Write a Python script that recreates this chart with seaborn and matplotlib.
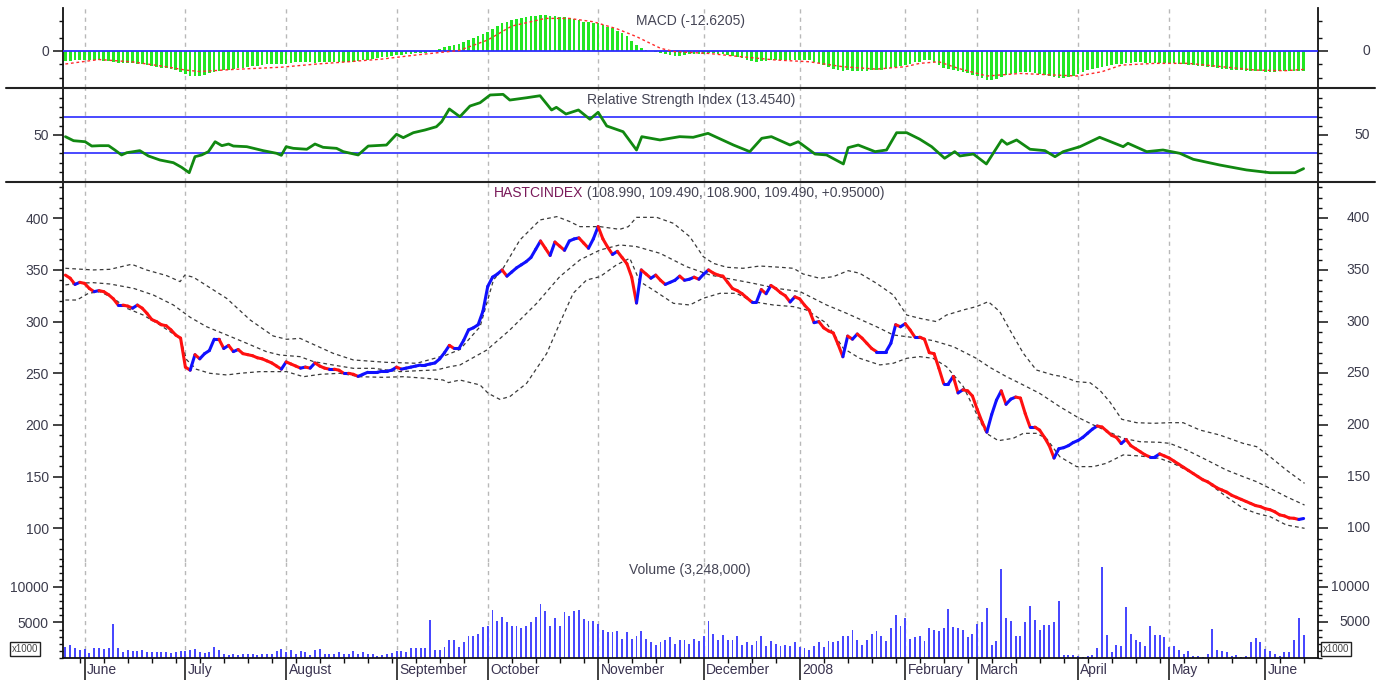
import numpy as np
import seaborn as sns
import matplotlib.pyplot as plt
from matplotlib.collections import LineCollection
from matplotlib.lines import Line2D
from matplotlib.ticker import MultipleLocator, FixedLocator

sns.set_theme(style='white')
plt.rcParams['font.family'] = ['Liberation Sans', 'DejaVu Sans']

# ---- data (trading-day index 0..258, late May 2007 -> mid June 2008) ----
month_labels = ['June', 'July', 'August', 'September', 'October', 'November',
                'December', '2008', 'February', 'March', 'April', 'May', 'June']
month_idx = [4, 25, 46, 69, 88, 111, 133, 153, 175, 190, 211, 230, 250]

close = [345, 342, 336, 338, 337, 332, 329, 330, 329, 326,
         322, 316, 316, 315, 313, 316, 313, 308, 302, 300,
         297, 296, 292, 287, 284, 256, 253, 268, 264, 269,
         272, 283, 283, 274, 277, 271, 273, 269, 268, 267,
         265, 264, 262, 260, 257, 254, 261, 259, 257, 255,
         256, 255, 260, 257, 255, 254, 254, 253, 250, 250,
         249, 247, 249, 251, 251, 251, 252, 252, 253, 256,
         254, 255, 256, 257, 258, 258, 259, 260, 264, 270,
         277, 274, 274, 282, 292, 294, 297, 310, 334, 343,
         346, 350, 344, 348, 352, 355, 358, 362, 370, 378,
         371, 364, 377, 373, 369, 378, 380, 381, 376, 371,
         380, 392, 380, 372, 365, 368, 362, 356, 343, 318,
         350, 346, 342, 345, 340, 336, 338, 340, 344, 340,
         341, 343, 341, 346, 350, 347, 345, 344, 338, 332,
         330, 327, 323, 319, 319, 331, 327, 335, 332, 328,
         325, 319, 324, 322, 316, 311, 299, 300, 294, 291,
         289, 278, 266, 286, 283, 288, 284, 279, 274, 271,
         271, 271, 279, 297, 295, 298, 292, 285, 285, 283,
         270, 269, 255, 240, 240, 247, 231, 234, 233, 228,
         215, 203, 193, 210, 224, 233, 220, 225, 227, 226,
         211, 198, 198, 195, 188, 180, 168, 177, 178, 180,
         183, 185, 188, 192, 196, 199, 198, 194, 190, 188,
         182, 186, 180, 177, 174, 171, 169, 169, 172, 170,
         168, 165, 162, 159, 156, 153, 150, 147, 145, 142,
         139, 137, 135, 132, 130, 128, 126, 124, 122, 121,
         119, 118, 116, 113, 112, 110, 109.7, 108.54, 109.49]

volume = [1590, 1780, 1400, 1080, 1270, 700, 1360, 1400, 1270, 1400,
          4830, 1360, 800, 1080, 940, 940, 1080, 800, 800, 800,
          800, 800, 700, 800, 940, 990, 1080, 1220, 800, 700,
          800, 1550, 1080, 610, 420, 610, 470, 610, 610, 610,
          420, 610, 610, 610, 940, 1270, 800, 1080, 610, 940,
          800, 470, 1080, 1270, 610, 610, 610, 800, 610, 610,
          940, 610, 800, 610, 610, 330, 470, 610, 700, 940,
          940, 800, 1400, 1400, 1400, 1400, 5300, 1080, 1080, 1500,
          2480, 2480, 1550, 2200, 3060, 3060, 3430, 4320, 4550, 6800,
          5160, 5770, 5020, 4550, 4550, 4220, 4550, 5020, 5770, 7650,
          6570, 4550, 5630, 4550, 6430, 5960, 6570, 6710, 5490, 5160,
          5160, 4830, 3990, 3610, 3610, 3750, 2720, 3610, 2720, 3050,
          3750, 2720, 2250, 1880, 2200, 2580, 2950, 2020, 2580, 2580,
          2020, 2720, 2350, 3060, 5260, 3430, 2580, 3290, 2580, 2480,
          3140, 1880, 2200, 1880, 2350, 3140, 1640, 2350, 2020, 1730,
          1830, 1640, 2200, 1550, 1400, 1170, 1640, 2200, 1550, 2440,
          2200, 2350, 3140, 3140, 3900, 2580, 1880, 2480, 3430, 3750,
          3060, 2440, 4220, 6100, 4550, 5630, 2670, 2950, 3140, 2350,
          4220, 3900, 3750, 4220, 6900, 4410, 4220, 3900, 2950, 3430,
          4830, 5020, 7040, 1880, 2350, 12530, 5630, 5160, 3140, 3140,
          5020, 7370, 5300, 3900, 4690, 4690, 5020, 7980, 470, 470,
          470, 230, 140, 330, 470, 1400, 12800, 3290, 800, 1880,
          1740, 7180, 3430, 2480, 2200, 1740, 4550, 3290, 3290, 2950,
          1550, 1740, 1080, 610, 940, 330, 330, 100, 610, 4130,
          1080, 940, 800, 330, 470, 140, 330, 2200, 2810, 2200,
          1270, 940, 610, 330, 800, 800, 2480, 5630, 3248]

macd = [-6.6, -6.4, -6.2, -6.0, -5.9, -5.9, -5.9, -5.9, -6.3, -6.8,
        -7.4, -7.7, -7.8, -7.9, -8.0, -8.3, -8.6, -9.0, -9.4, -10.0,
        -10.6, -11.1, -11.6, -12.3, -13.4, -14.8, -15.9, -16.0, -15.9, -15.0,
        -14.0, -13.4, -13.0, -12.4, -12.0, -11.5, -11.1, -10.7, -10.2, -9.8,
        -9.4, -9.0, -8.7, -8.6, -8.6, -8.6, -8.2, -7.7, -7.2, -7.0,
        -7.2, -7.4, -7.6, -7.4, -7.2, -7.0, -7.0, -7.0, -7.0, -7.0,
        -7.0, -6.6, -6.1, -5.8, -5.3, -4.8, -4.3, -3.9, -3.4, -3.0,
        -2.6, -2.3, -2.0, -1.8, -1.6, -1.4, -1.2, -0.5, 0.8, 2.2,
        3.0, 3.4, 4.2, 5.3, 6.5, 7.6, 8.9, 10.4, 11.8, 13.6,
        15.3, 17.0, 18.0, 18.8, 19.6, 20.3, 20.8, 21.3, 21.8, 22.2,
        22.1, 21.9, 21.6, 21.2, 20.7, 20.2, 19.5, 18.8, 18.1, 17.6,
        17.2, 17.0, 16.2, 14.8, 13.8, 12.5, 11.0, 9.3, 6.0, 3.5,
        1.8, 0.3, -0.3, -1.0, -1.5, -2.3, -3.0, -3.4, -3.2, -2.8,
        -2.3, -2.1, -2.0, -1.9, -1.8, -1.8, -1.9, -2.1, -2.6, -3.3,
        -4.0, -4.9, -5.6, -6.3, -7.0, -6.6, -6.3, -6.0, -5.9, -5.9,
        -5.9, -5.9, -5.8, -5.8, -5.9, -6.2, -7.0, -8.0, -9.0, -10.2,
        -11.3, -12.2, -12.6, -12.4, -12.6, -12.6, -12.7, -12.6, -12.4, -12.2,
        -11.9, -11.5, -11.1, -10.2, -9.5, -9.1, -8.3, -7.3, -7.0, -6.2,
        -5.9, -7.2, -9.0, -10.6, -11.5, -12.0, -12.6, -13.2, -14.0, -15.0,
        -16.2, -17.4, -18.1, -18.4, -17.6, -16.4, -15.3, -14.6, -13.9, -13.2,
        -13.3, -13.5, -13.9, -14.5, -15.0, -15.7, -16.8, -17.4, -17.0, -16.3,
        -15.6, -14.9, -13.5, -12.4, -11.5, -10.7, -10.0, -9.5, -9.0, -8.6,
        -8.2, -7.9, -7.6, -7.4, -7.4, -7.5, -7.6, -7.6, -7.6, -7.6,
        -7.6, -7.8, -8.1, -8.4, -8.8, -9.1, -9.4, -9.8, -10.1, -10.5,
        -10.9, -11.3, -11.7, -11.9, -12.1, -12.3, -12.5, -12.6, -12.8, -13.0,
        -13.1, -13.2, -13.1, -12.9, -12.7, -12.6, -12.6, -12.7, -12.62]

signal_idx = [0, 7, 14, 21, 25, 28, 35, 45, 52, 59, 66, 73, 79, 82, 88, 93, 100,
              105, 110, 115, 119, 124, 127, 134, 141, 148, 155, 162, 169, 175,
              178, 182, 186, 192, 199, 206, 211, 216, 220, 227, 234, 241, 248,
              254, 258]
signal_val = [-8.4, -5.6, -7.1, -10.1, -12.2, -13.1, -11.8, -10.4, -8.5, -7.0,
              -5.3, -2.8, -0.9, 0.0, 6.6, 15.3, 20.1, 20.1, 18.0, 13.5, 8.7, 1.4,
              -0.7, -1.8, -3.9, -5.9, -7.0, -10.1, -11.6, -10.1, -8.0, -7.0,
              -11.1, -15.9, -14.3, -15.3, -15.9, -13.2, -9.1, -8.0, -8.0, -10.1,
              -12.2, -12.6, -11.8]

rsi_idx = [0, 1.7, 4.1, 5.5, 7.2, 9, 10.3, 11.7, 12.8, 14.2, 15.5, 17.3, 19.7,
           22.5, 24.2, 25.8, 27, 28.4, 29.8, 31.2, 32.6, 34, 35, 37.8, 41.2, 44,
           45, 46, 47.5, 50.3, 52, 53.7, 56.5, 57.9, 61, 63.1, 66.9, 69, 70.4,
           72.5, 74.9, 77.3, 78.4, 80, 82.2, 84.3, 86.4, 88.5, 91.2, 92.6, 96.1,
           98.9, 101.3, 102.3, 104.3, 106.9, 109.3, 111, 112.8, 116.2, 119,
           120.1, 123.9, 128, 130.8, 133.9, 139.2, 142.6, 145.1, 147.1, 151,
           152.7, 156.2, 158.6, 162.1, 163.1, 165.2, 168.7, 171.1, 173.2, 175.3,
           178, 180.5, 183.2, 185.3, 186.4, 189.2, 191.9, 195.1, 196.2, 198.2,
           201, 204.1, 206.2, 207.9, 211.4, 215.5, 220.4, 221.4, 225.3, 228.7,
           232.2, 235, 240.5, 246.1, 251, 256.2, 258]
rsi_val = [48.2, 43.8, 42.7, 38, 38.4, 38.4, 33.7, 28.3, 30.8, 31.9, 33, 27.2,
           22.8, 19.9, 14.9, 9, 26.4, 28.3, 31.9, 42.7, 38.4, 40.2, 38, 37.3, 33,
           30.1, 27.9, 37.3, 35.5, 34.5, 40.2, 36.6, 35.5, 31.9, 28.3, 38, 39.1,
           50.8, 47.1, 52.5, 55.4, 59, 64.5, 78.3, 69.9, 81.5, 85.1, 93.5, 94.2,
           88, 90.5, 92.7, 77.2, 80.1, 72.8, 77.2, 67.1, 74.7, 59.8, 53.6, 33.7,
           48.2, 44.6, 48.2, 47.5, 51.8, 39.1, 31.9, 46.4, 48.2, 39.1, 42.7,
           29.3, 28.3, 18.5, 36.2, 39.1, 31.9, 33.7, 52.5, 52.5, 45.5, 37.3,
           24.7, 31.9, 27.2, 29.3, 18.5, 44.6, 39.9, 44.6, 34.5, 33, 26.4, 31.9,
           37.3, 47.5, 37.3, 41, 31.9, 33.7, 30.1, 23.6, 17.4, 12, 9, 9, 13.45]

upper_idx = [0, 5.8, 9.3, 13.8, 16.9, 21.1, 23.9, 24.9, 26.7, 33.6,
             38.5, 43.3, 46.1, 48.9, 55.8, 60, 66.9, 73.2, 79.4, 82.2,
             86.4, 89.2, 91.2, 94.7, 98.9, 102.4, 105.1, 107.2, 111.4, 115.5,
             117.3, 119, 123.2, 126.7, 130.1, 132.9, 135, 137.8, 141.2, 144.7,
             148.9, 151.7, 153.7, 157.2, 160, 163.1, 165.5, 169, 172.5, 175.3,
             178, 181.5, 183.6, 187.1, 189.8, 192.3, 194.7, 196.8, 199.6, 202.3,
             205.8, 207.9, 210.7, 213.5, 215.5, 217.6, 220.1, 223.2, 226.7, 230.1,
             232.9, 236.4, 240.5, 245.4, 248.2, 251, 254.4, 258.2]
upper_val = [351.6, 350, 350.6, 355.5, 350, 344.5, 338.7, 345.1, 342.9, 322.5,
             301.6, 286.1, 282.9, 283.8, 269.3, 262.9, 260.6, 259.7, 267.7, 273,
             295.1, 340.3, 351.6, 379, 398.4, 401.6, 396.8, 391.9, 391.9, 389.3,
             391.9, 400.9, 400.9, 395.1, 382.2, 362.9, 356.4, 352.6, 351.6, 353.8,
             352.6, 351.6, 346.1, 341.9, 343.5, 349.3, 346.8, 337.1, 325.8, 306.4,
             303.2, 300, 306.4, 311.3, 314.5, 319.3, 309.7, 291.9, 269.3, 253.2,
             248.4, 246.7, 241.9, 240.9, 233.8, 222.5, 205.5, 202.2, 201.6, 202.2,
             202.2, 195.1, 190.3, 182.2, 179, 169.3, 156.4, 143.5]

mid_idx = [0, 2.4, 5.8, 9.3, 14.2, 18.3, 22.5, 26, 29.4, 33.6,
           37.8, 41.9, 44.7, 48.9, 51.7, 55.8, 60, 64.2, 69.7, 73.9,
           77.3, 80.1, 82.2, 87.8, 92.6, 98.2, 103, 107.2, 111.4, 115.5,
           119, 123.9, 129.4, 134.3, 137.8, 143.3, 148.2, 153.1, 158.6, 162.8,
           169, 172.5, 178, 180.8, 185, 189.8, 192.6, 196.1, 198.9, 203,
           207.2, 210.7, 214.2, 217.6, 220.4, 223.9, 228, 230.1, 233.6, 237.8,
           241.9, 245.4, 248.2, 251, 254.4, 258.2]
mid_val = [335.5, 337.1, 337.7, 336.4, 332.2, 325.8, 316.1, 304.2, 295.1, 287.1,
           279, 270.9, 267.7, 266.1, 261.3, 258, 254.8, 254.8, 251.6, 252.6,
           253.2, 256.4, 258, 272.5, 291.9, 317.7, 343.5, 359.7, 369.3, 374.2,
           372.6, 366.1, 353.2, 345.1, 341.9, 337.1, 332.2, 329, 316.1, 308,
           295.1, 287.1, 283.8, 281.6, 275.8, 264.5, 255.8, 246.7, 240.3, 230.6,
           217.7, 208, 200, 192.9, 187.1, 183.8, 183.2, 182.2, 175.8, 166.1,
           156.4, 150, 145.1, 138.7, 130.6, 122.5]

lower_idx = [0, 2.4, 4.8, 7.2, 10, 12.8, 16.2, 19.7, 23.9, 25.3,
             27.3, 30.1, 33.6, 36.4, 40.5, 46.1, 49.6, 53.1, 57.2, 61.4,
             66.2, 70.4, 75.3, 78.7, 79.8, 82.2, 86.4, 88.1, 90.5, 92.6,
             96.1, 100.3, 103, 105.8, 108.6, 111.4, 114.8, 117.6, 119.7, 122.5,
             126.7, 130.1, 132.9, 136.4, 139.8, 143.3, 147.5, 151.7, 154.4, 158.6,
             162.1, 165.5, 169.7, 172.5, 175.3, 178, 180.8, 183.6, 187.1, 189.8,
             191.9, 194.4, 197.5, 199.6, 202.3, 204.4, 207.2, 210.7, 214.2, 216.9,
             220.4, 223.9, 228, 230.8, 233.6, 237.8, 241.9, 245.4, 248.2, 251,
             254.4, 258.2]
lower_val = [320.9, 320.9, 327.4, 329, 322.6, 312.9, 306.4, 296.8, 283.8, 262.9,
             253.9, 250, 248.4, 250, 251.6, 251.6, 246.7, 249, 250, 246.7,
             246.1, 246.7, 245.1, 243.5, 241, 243.5, 238.7, 230.6, 224.8, 227.4,
             240.3, 269.3, 298.4, 327.4, 340.3, 343.5, 354.8, 361.3, 338.7, 330.6,
             317.7, 316.1, 322.6, 327.4, 327.4, 319.3, 316.1, 314.5, 311.3, 298.4,
             274.2, 264.5, 258.1, 259.7, 264.5, 266.1, 264.5, 256.4, 237.1, 211.3,
             191.9, 184.8, 187.1, 191.9, 191.9, 187.1, 169.3, 159.7, 159.7, 162.9,
             171, 170, 167.7, 162.9, 156.4, 145.1, 130.6, 119.3, 114.5, 111.3,
             103.2, 100]

# ---- layout (pixel boxes of the reference) ----
W, H = 1381, 680
fig = plt.figure(figsize=(W / 100, H / 100), dpi=100, facecolor='white')
X0, X1 = 63, 1318


def box(top, bottom):
    return [X0 / W, 1 - bottom / H, (X1 - X0) / W, (bottom - top) / H]


ax_macd = fig.add_axes(box(8, 88))
ax_rsi = fig.add_axes(box(88, 182))
ax_px = fig.add_axes(box(182, 562))
ax_vol = fig.add_axes(box(562, 658))
axes = [ax_macd, ax_rsi, ax_px, ax_vol]

TXT = '#3c3c4c'
GRID = '#b8b8b8'

for ax in axes:
    ax.set_facecolor('white')
    ax.set_xlim(-0.5, 261)
    for s in ['top', 'bottom']:
        ax.spines[s].set_visible(False)
    for s in ['left', 'right']:
        ax.spines[s].set_color('#111111')
        ax.spines[s].set_linewidth(1.3)
    ax.tick_params(axis='y', which='both', left=True, right=True,
                   labelleft=True, labelright=False, direction='out',
                   color='#111111', labelcolor=TXT, labelsize=10)
    ax.tick_params(axis='y', which='major', length=7.2, width=1.1, pad=3)
    ax.tick_params(axis='y', which='minor', length=3.2, width=1)
    ax.tick_params(axis='x', which='both', bottom=False, labelbottom=False)
    for m in month_idx:
        ax.axvline(m, color=GRID, lw=1, ls=(0, (3, 3)), zorder=0)


def right_labels(ax, ticks, labels):
    for t, l in zip(ticks, labels):
        ax.text((1370 - X0) / (X1 - X0), t, l, transform=ax.get_yaxis_transform(),
                ha='right', va='center', fontsize=10, color=TXT)


# ---- MACD ----
idx = np.arange(len(macd))
ax_macd.bar(idx, macd, width=0.55, color='#22e622', edgecolor='none', zorder=2)
ax_macd.axhline(0, color='#2a2aff', lw=1.3, zorder=3)
sns.lineplot(x=signal_idx, y=signal_val, ax=ax_macd, color='#ff2a2a', lw=1.0,
             linestyle=(0, (2, 2)), zorder=4)
ax_macd.set_ylim(-23.4, 26.6)
ax_macd.yaxis.set_major_locator(FixedLocator([0]))
ax_macd.yaxis.set_minor_locator(FixedLocator([-17.2, -8.4, 7.8, 18.4]))
ax_macd.set_yticklabels(['0'])
right_labels(ax_macd, [0], ['0'])

# ---- RSI ----
sns.lineplot(x=rsi_idx, y=rsi_val, ax=ax_rsi, color='#118811', lw=2.0, zorder=3)
ax_rsi.axhline(70, color='#3a3aff', lw=1.3, zorder=2)
ax_rsi.axhline(30, color='#3a3aff', lw=1.3, zorder=2)
ax_rsi.set_ylim(-1.1, 101.1)
ax_rsi.yaxis.set_major_locator(FixedLocator([50]))
ax_rsi.yaxis.set_minor_locator(FixedLocator([10, 20, 30, 40, 60, 70, 80, 90]))
ax_rsi.set_yticklabels(['50'])
right_labels(ax_rsi, [50], ['50'])

# ---- price with bands ----
for bx, by in [(upper_idx, upper_val), (mid_idx, mid_val), (lower_idx, lower_val)]:
    sns.lineplot(x=bx, y=by, ax=ax_px, color='#3a3a3a', lw=0.9,
                 linestyle=(0, (3, 2.5)), zorder=2)
pidx = np.arange(len(close))
pts = np.column_stack([pidx, close])
segs = np.stack([pts[:-1], pts[1:]], axis=1)
cols = ['#ff1010' if close[i + 1] < close[i] else '#1010ff' for i in range(len(close) - 1)]
ax_px.add_collection(LineCollection(segs, colors=cols, linewidths=2.2,
                                    capstyle='round', joinstyle='round', zorder=4))
ax_px.set_ylim(67.4, 435.1)
ptick = [100, 150, 200, 250, 300, 350, 400]
ax_px.yaxis.set_major_locator(FixedLocator(ptick))
ax_px.yaxis.set_minor_locator(MultipleLocator(10))
ax_px.set_yticklabels([str(t) for t in ptick])
right_labels(ax_px, ptick, [str(t) for t in ptick])

# ---- volume ----
vidx = np.arange(len(volume))
ax_vol.bar(vidx, volume, width=0.4, color='#4848ff', edgecolor='none', zorder=2)
ax_vol.set_ylim(0, 13520)
ax_vol.yaxis.set_major_locator(FixedLocator([5000, 10000]))
ax_vol.yaxis.set_minor_locator(MultipleLocator(1000))
ax_vol.set_yticklabels(['5000', '10000'])
right_labels(ax_vol, [5000, 10000], ['5000', '10000'])
ax_vol.spines['bottom'].set_visible(True)
ax_vol.spines['bottom'].set_color('#111111')
ax_vol.spines['bottom'].set_linewidth(1.3)
ax_vol.xaxis.set_major_locator(FixedLocator(month_idx))
ax_vol.xaxis.set_minor_locator(MultipleLocator(5, offset=3))
ax_vol.tick_params(axis='x', which='major', bottom=True, length=16, width=1.3,
                   color='#333333', direction='out')
ax_vol.tick_params(axis='x', which='minor', bottom=True, length=3.5, width=1,
                   color='#111111', direction='out')
for m, lab in zip(month_idx, month_labels):
    ax_vol.text(m + 0.5, -0.125, lab, transform=ax_vol.get_xaxis_transform(),
                ha='left', va='center', fontsize=10, color='#3a3350')

# ---- separators, titles, unit boxes ----
for yy in [88, 182]:
    fig.add_artist(Line2D([6 / W, 1375 / W], [1 - yy / H, 1 - yy / H],
                          color='#222222', lw=1.5))

fig.text(690 / W, 1 - 21 / H, 'MACD (-12.6205)', ha='center', va='center',
         fontsize=10, color='#454555')
fig.text(691 / W, 1 - 100 / H, 'Relative Strength Index (13.4540)', ha='center',
         va='center', fontsize=10, color='#454555')
fig.text(583 / W, 1 - 193 / H, 'HASTCINDEX', ha='right', va='center',
         fontsize=10, color='#7a1a5a')
fig.text(583 / W, 1 - 193 / H, ' (108.990, 109.490, 108.900, 109.490, +0.95000)',
         ha='left', va='center', fontsize=10, color='#454555')
fig.text(690 / W, 1 - 570 / H, 'Volume (3,248,000)', ha='center', va='center',
         fontsize=10, color='#454555')

for xc in [25, 1336]:
    fig.text(xc / W, 1 - 649 / H, 'x1000', ha='center', va='center', fontsize=7,
             color='#444444',
             bbox=dict(boxstyle='square,pad=0.2', fc='white', ec='#222222', lw=1))

fig.savefig('out.png', dpi=100, facecolor='white')
